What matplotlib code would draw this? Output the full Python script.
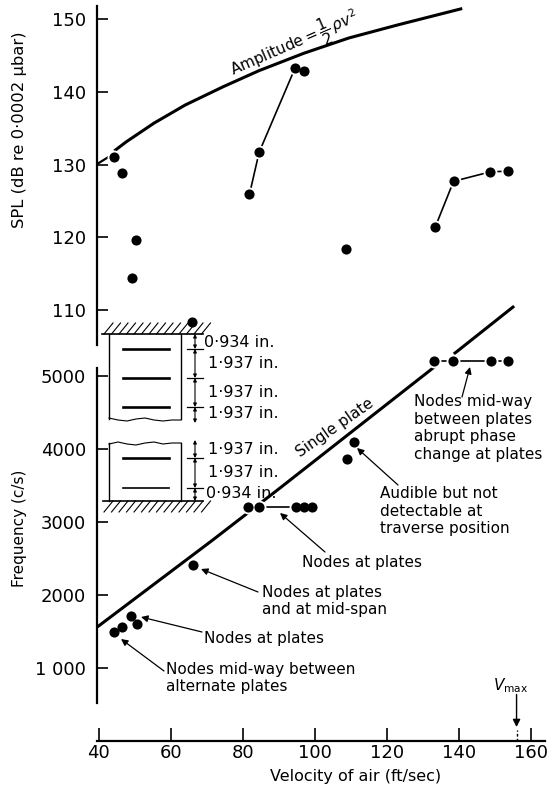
#!/usr/bin/env python3
"""Sound pressure level and frequency of the resonance against air velocity."""
import matplotlib
matplotlib.use("Agg")
import matplotlib.pyplot as plt
import numpy as np

W, H = 548, 788

#%% values
spl_v = [44.4, 46.5, 50.4, 49.2, 65.9, 108.7]
spl_db = [131.0, 128.8, 119.6, 114.4, 108.3, 118.4]
spl_run1_v = [81.9, 84.6, 94.6]
spl_run1_db = [125.9, 131.7, 143.3]
spl_run1_end_v = [97.0]
spl_run1_end_db = [142.9]
spl_run2_v = [133.5, 138.6, 148.8, 153.6]
spl_run2_db = [121.4, 127.7, 129.0, 129.1]

curve_start_v = [40.0, 42.6]
curve_start_db = [130.2, 131.0]
curve_v = [44.7, 47.6, 55.4, 64.1, 74.6, 84.5, 97.0, 109.5, 123.1, 140.6]
curve_db = [132.0, 133.1, 135.7, 138.2, 140.7, 142.9, 145.3, 147.4, 149.2, 151.4]

freq_v = [44.4, 46.5, 49.0, 50.6, 66.2, 109.0, 110.9]
freq_hz = [1493, 1562, 1712, 1603, 2411, 3863, 4096]
freq_run1_v = [81.6, 84.6, 94.8, 97.0, 99.3]
freq_run1_hz = [3205, 3205, 3205, 3205, 3205]
freq_run2_v = [133.2, 138.4, 149.0, 153.8]
freq_run2_hz = [5205, 5205, 5205, 5205]

plate_v = [40.0, 71.7, 90.4, 132.9]
plate_hz = [1575, 2753, 3466, 5110]
plate_top_v = [139.0, 155.1]
plate_top_hz = [5315, 5945]

v_ticks = [40, 60, 80, 100, 120, 140, 160]
spl_ticks = [110, 120, 130, 140, 150]
freq_ticks = [1000, 2000, 3000, 4000, 5000]
freq_labels = ['1 000', '2000', '3000', '4000', '5000']
v_max = 156.1

plt.rcParams['font.family'] = ['DejaVu Sans']
plt.rcParams['mathtext.fontset'] = 'dejavusans'
TXT = 11
NUM = 13


def px_axes(left, top, right, bottom):
    a = fig.add_axes([left / W, 1 - bottom / H, (right - left) / W, (bottom - top) / H])
    a.patch.set_alpha(0)
    for s in ['top', 'right', 'bottom', 'left']:
        a.spines[s].set_visible(False)
    return a


def dots(a, x, y, line=False):
    if line:
        a.plot(x, y, '-', color='k', lw=1.2, clip_on=False, zorder=2)
    a.plot(x, y, 'o', color='w', ms=10, mew=0, ls='none', clip_on=False, zorder=2.5)
    a.plot(x, y, 'o', color='k', ms=7.3, mew=0, ls='none', clip_on=False, zorder=3)


fig = plt.figure(figsize=(W / 100, H / 100), dpi=100)

xlim = (39.56, 164.0)

#%% SPL panel
ax1 = px_axes(97, 6, 545, 345)
ax1.set_xlim(xlim)
ax1.set_ylim(105.2, 151.8)
ax1.spines['left'].set_visible(True)
ax1.spines['left'].set_linewidth(1.6)
ax1.set_xticks([])
ax1.set_yticks(spl_ticks)
ax1.tick_params(axis='y', direction='in', length=8, width=1.2, pad=8, labelsize=NUM)
ax1.plot(curve_start_v, curve_start_db, color='k', lw=1.6, clip_on=False)
ax1.plot(curve_v, curve_db, color='k', lw=2.2, clip_on=False)
dots(ax1, spl_v, spl_db)
dots(ax1, spl_run1_v, spl_run1_db, line=True)
dots(ax1, spl_run1_end_v, spl_run1_end_db)
dots(ax1, spl_run2_v, spl_run2_db, line=True)

#%% frequency panel
ax2 = px_axes(97, 368, 545, 703)
ax2.set_xlim(xlim)
ax2.set_ylim(520, 5110)
ax2.spines['left'].set_visible(True)
ax2.spines['left'].set_linewidth(1.6)
ax2.set_xticks([])
ax2.set_yticks(freq_ticks, freq_labels)
ax2.tick_params(axis='y', direction='in', length=8, width=1.2, pad=8, labelsize=NUM)
ax2.plot(plate_v, plate_hz, color='k', lw=2.2, clip_on=False, zorder=1)
ax2.plot(plate_top_v, plate_top_hz, color='k', lw=2.2, clip_on=False, zorder=1)
dots(ax2, freq_v, freq_hz)
dots(ax2, freq_run1_v, freq_run1_hz, line=True)
dots(ax2, freq_run2_v, freq_run2_hz, line=True)

#%% velocity axis
ax3 = px_axes(97, 726, 545, 741)
ax3.set_xlim(xlim)
ax3.set_ylim(0, 1)
ax3.spines['bottom'].set_visible(True)
ax3.spines['bottom'].set_linewidth(1.6)
ax3.set_yticks([])
ax3.set_xticks(v_ticks)
ax3.tick_params(axis='x', direction='in', length=9.4, width=1.2, pad=2, labelsize=NUM)
ax3.annotate('', xy=(v_max, 0.93), xytext=(v_max, 3.1), arrowprops=dict(
    arrowstyle='-|>', color='k', lw=1, shrinkA=0, shrinkB=0, mutation_scale=11), annotation_clip=False)
ax3.plot([v_max, v_max], [0, 0.75], color='k', lw=1, ls=(0, (2, 1.5)))

#%% overlay in picture pixels for the labels and the plate sketch
ov = fig.add_axes([0, 0, 1, 1])
ov.set_xlim(0, W)
ov.set_ylim(H, 0)
ov.axis('off')
ov.patch.set_alpha(0)

ov.text(20, 130, 'SPL (dB re 0·0002 μbar)', rotation=90, ha='center', va='center', fontsize=11.8)
ov.text(20, 528, 'Frequency (c/s)', rotation=90, ha='center', va='center', fontsize=TXT)
ov.text(356, 777, 'Velocity of air (ft/sec)', ha='center', va='center', fontsize=11.5)
ov.text(511, 686, r'$V_{\mathrm{max}}$', ha='center', va='center', fontsize=TXT)
ov.text(295, 44, r'Amplitude$=\dfrac{1}{2}\,\rho v^2$', rotation=23.5, ha='center', va='center',
        rotation_mode='anchor', fontsize=11)
ov.text(335, 428, 'Single plate', rotation=35, ha='center', va='center',
        rotation_mode='anchor', fontsize=TXT)

notes = [
    ('Nodes at plates', 302, 562, (325, 552), (280, 513)),
    ('Nodes at plates\nand at mid-span', 262, 601, (258, 592), (201, 569)),
    ('Nodes at plates', 204, 639, (202, 632), (141, 617)),
    ('Nodes mid-way between\nalternate plates', 166, 678, (164, 671), (121, 639)),
    ('Nodes mid-way\nbetween plates\nabrupt phase\nchange at plates', 414, 428, (462, 397), (470, 367)),
    ('Audible but not\ndetectable at\ntraverse position', 380, 511, (398, 485), (357, 448)),
]
for label, x, y, start, tip in notes:
    ov.text(x, y, label, ha='left', va='center', fontsize=TXT, linespacing=1.2)
    ov.annotate('', xy=tip, xytext=start, arrowprops=dict(
        arrowstyle='-|>', color='k', lw=0.9, shrinkA=0, shrinkB=0, mutation_scale=10))

# plate sketch
for x in [109, 181]:
    ov.plot([x, x], [334, 419], color='k', lw=1)
    ov.plot([x, x], [443, 501], color='k', lw=1)
ov.plot([102, 203], [334, 334], color='k', lw=1.2)
ov.plot([103, 203], [501, 501], color='k', lw=1.2)
for x in np.arange(104, 206, 7.5):
    ov.plot([x, x + 9], [334, 323], color='k', lw=0.8)
    ov.plot([x, x + 9], [512, 501], color='k', lw=0.8)
wave_x = [109, 118, 127, 136, 145, 154, 163, 172, 181]
ov.plot(wave_x, [418, 420, 421, 419, 418, 420, 421, 420, 420], color='k', lw=0.8)
ov.plot(wave_x, [444, 442, 444, 445, 443, 442, 444, 443, 443], color='k', lw=0.8)
for y in [349, 378, 407, 458]:
    ov.plot([123, 169], [y, y], color='k', lw=1.9)
ov.plot([123, 169], [488, 488], color='k', lw=1.2)

for y in [349, 378, 407, 458, 488]:
    ov.plot([187, 203], [y, y], color='k', lw=0.9)
for y0, y1 in [(334, 349), (349, 378), (378, 407), (407, 423), (440, 458), (458, 488), (488, 501)]:
    ov.annotate('', xy=(195, y0), xytext=(195, y1), arrowprops=dict(
        arrowstyle='<|-|>', color='k', lw=0.8, shrinkA=0, shrinkB=0, mutation_scale=5))

sizes = [('0·934 in.', 204, 342), ('1·937 in.', 208, 363), ('1·937 in.', 208, 392), ('1·937 in.', 208, 413),
         ('1·937 in.', 208, 449), ('1·937 in.', 208, 472), ('0·934 in.', 206, 493)]
for label, x, y in sizes:
    ov.text(x, y, label, ha='left', va='center', fontsize=11.5)

fig.savefig('out.png', dpi=100)
